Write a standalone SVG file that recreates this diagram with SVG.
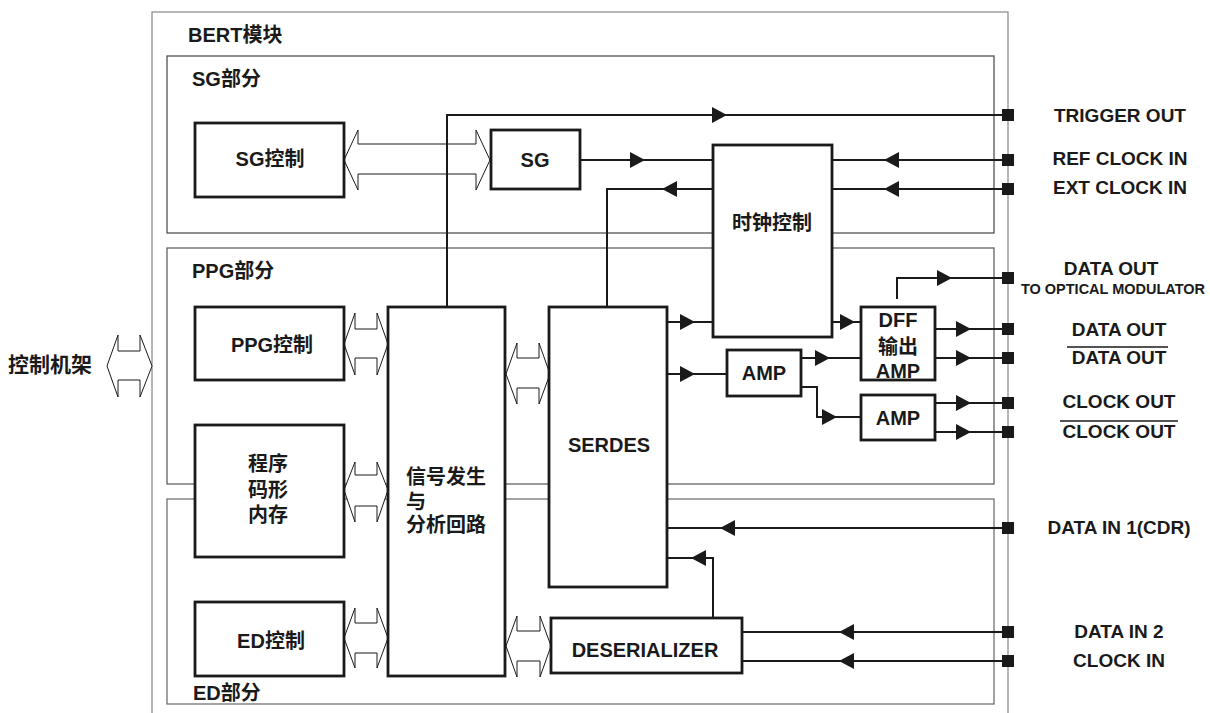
<svg xmlns="http://www.w3.org/2000/svg" xmlns:xlink="http://www.w3.org/1999/xlink" width="1210" height="713" viewBox="0 0 1210 713">
<style>
.t{font-family:"Liberation Sans","Noto Sans CJK SC",sans-serif;font-weight:bold;font-size:20px;fill:#1a1a1a}
.r{font-size:19px}
.c{text-anchor:middle}
.box{fill:#fff;stroke:#1a1a1a;stroke-width:2.8}
.sec{fill:none;stroke:#444;stroke-width:1.2}
.outer{fill:none;stroke:#888;stroke-width:1.2}
.ln{fill:none;stroke:#1a1a1a;stroke-width:2}
.dbl{fill:#fff;stroke:#1a1a1a;stroke-width:1}
.ol{stroke:#1a1a1a;stroke-width:1.5}
</style>
<defs>
<path id="ah" d="M0,0 L-15,-8 L-15,8 Z" fill="#1a1a1a"/>
<rect id="tm" x="-6" y="-6" width="12" height="12" fill="#1a1a1a"/>
</defs>
<rect width="1210" height="713" fill="#fff"/>

<g id="sections">
<rect class="outer" x="152" y="12" width="856" height="720"/>
<rect class="sec" x="167" y="56" width="827" height="177"/>
<rect class="sec" x="167" y="248" width="827" height="236" style="stroke:#555"/>
<rect class="sec" x="167" y="499" width="827" height="205" style="stroke:#666"/>
<text class="t" x="188" y="42">BERT模块</text>
<text class="t" x="192" y="86">SG部分</text>
<text class="t" x="192" y="278">PPG部分</text>
<text class="t" x="193" y="700">ED部分</text>
</g>

<g id="buses">
<polygon class="dbl" points="107,366 118,335 118,351 140,351 140,335 152,366 140,397 140,380 118,380 118,397"/>
<polygon class="dbl" points="344,160 358,130 358,144 476,144 476,130 490,160 476,190 476,174 358,174 358,190"/>
<polygon class="dbl" points="344,344 355,313 355,329 377,329 377,313 388,344 377,375 377,358 355,358 355,375"/>
<polygon class="dbl" points="344,490 355,462 355,475 377,475 377,462 388,490 377,522 377,506 355,506 355,522"/>
<polygon class="dbl" points="344,638 355,608 355,623 377,623 377,608 388,638 377,668 377,653 355,653 355,668"/>
<polygon class="dbl" points="506,374 517,343 517,358 539,358 539,343 550,374 539,404 539,388 517,388 517,404"/>
<polygon class="dbl" points="506,646 517,616 517,631 540,631 540,616 551,646 540,677 540,661 517,661 517,677"/>
</g>

<g id="connectors">
<path class="ln" d="M447,307 V115 H1008"/>
<use xlink:href="#ah" transform="translate(727,115)"/>
<path class="ln" d="M580,160 H713"/>
<use xlink:href="#ah" transform="translate(645,160)"/>
<path class="ln" d="M713,189 H607 V307"/>
<use xlink:href="#ah" transform="translate(662,189) rotate(180)"/>
<path class="ln" d="M1008,160 H832"/>
<use xlink:href="#ah" transform="translate(884,160) rotate(180)"/>
<path class="ln" d="M1008,189 H832"/>
<use xlink:href="#ah" transform="translate(884,189) rotate(180)"/>
<path class="ln" d="M667,322 H713"/>
<use xlink:href="#ah" transform="translate(695,322)"/>
<path class="ln" d="M832,322 H861"/>
<use xlink:href="#ah" transform="translate(855,322)"/>
<path class="ln" d="M667,374 H727"/>
<use xlink:href="#ah" transform="translate(695,374)"/>
<path class="ln" d="M801,358 H861"/>
<use xlink:href="#ah" transform="translate(830,358)"/>
<path class="ln" d="M801,387 H817 V417 H861"/>
<use xlink:href="#ah" transform="translate(837,417)"/>
<path class="ln" d="M897,299 V278 H1008"/>
<use xlink:href="#ah" transform="translate(952,278)"/>
<path class="ln" d="M935,329 H1008"/>
<use xlink:href="#ah" transform="translate(971,329)"/>
<path class="ln" d="M935,358 H1008"/>
<use xlink:href="#ah" transform="translate(971,358)"/>
<path class="ln" d="M935,403 H1008"/>
<use xlink:href="#ah" transform="translate(971,403)"/>
<path class="ln" d="M935,432 H1008"/>
<use xlink:href="#ah" transform="translate(971,432)"/>
<path class="ln" d="M1008,528 H667"/>
<use xlink:href="#ah" transform="translate(720,528) rotate(180)"/>
<path class="ln" d="M713,618 V558 H667"/>
<use xlink:href="#ah" transform="translate(691,558) rotate(180)"/>
<path class="ln" d="M1008,632 H742"/>
<use xlink:href="#ah" transform="translate(839,632) rotate(180)"/>
<path class="ln" d="M1008,661 H742"/>
<use xlink:href="#ah" transform="translate(839,661) rotate(180)"/>
</g>

<g id="terminals">
<use xlink:href="#tm" x="1008" y="115"/>
<use xlink:href="#tm" x="1008" y="160"/>
<use xlink:href="#tm" x="1008" y="189"/>
<use xlink:href="#tm" x="1008" y="278"/>
<use xlink:href="#tm" x="1008" y="329"/>
<use xlink:href="#tm" x="1008" y="358"/>
<use xlink:href="#tm" x="1008" y="403"/>
<use xlink:href="#tm" x="1008" y="432"/>
<use xlink:href="#tm" x="1008" y="528"/>
<use xlink:href="#tm" x="1008" y="632"/>
<use xlink:href="#tm" x="1008" y="661"/>
</g>

<g id="sg-ctrl"><rect class="box" x="195" y="123" width="149" height="74"/><text class="t c" x="270" y="166">SG控制</text></g>
<g id="sg"><rect class="box" x="491" y="130" width="89" height="59"/><text class="t c" x="535" y="167">SG</text></g>
<g id="clock-ctrl"><rect class="box" x="713" y="145" width="119" height="192"/><text class="t c" x="772" y="230">时钟控制</text></g>
<g id="ppg-ctrl"><rect class="box" x="195" y="307" width="149" height="73"/><text class="t c" x="272" y="352">PPG控制</text></g>
<g id="pattern-mem"><rect class="box" x="195" y="425" width="149" height="132"/>
<text class="t c" x="268" y="471">程序</text><text class="t c" x="268" y="497">码形</text><text class="t c" x="268" y="522">内存</text></g>
<g id="ed-ctrl"><rect class="box" x="195" y="602" width="149" height="74"/><text class="t c" x="271" y="648">ED控制</text></g>
<g id="signal"><rect class="box" x="388" y="307" width="117" height="369"/>
<text class="t" x="406" y="484">信号发生</text><text class="t" x="406" y="509">与</text><text class="t" x="406" y="532">分析回路</text></g>
<g id="serdes"><rect class="box" x="549" y="307" width="118" height="280"/><text class="t c" x="609" y="452">SERDES</text></g>
<g id="amp1"><rect class="box" x="727" y="350" width="74" height="46"/><text class="t c" x="764" y="380">AMP</text></g>
<g id="dff"><rect class="box" x="861" y="307" width="74" height="73"/>
<text class="t c" x="898" y="327">DFF</text><text class="t c" x="898" y="354">输出</text><text class="t c" x="898" y="378">AMP</text></g>
<g id="amp2"><rect class="box" x="861" y="395" width="74" height="45"/><text class="t c" x="898" y="425">AMP</text></g>
<g id="deser"><rect class="box" x="551" y="618" width="191" height="55"/><text class="t c" x="645" y="657">DESERIALIZER</text></g>

<g id="labels">
<text class="t" x="8" y="372" style="font-size:21px">控制机架</text>
<text class="t r c" x="1120" y="122">TRIGGER OUT</text>
<text class="t r c" x="1120" y="165">REF CLOCK IN</text>
<text class="t r c" x="1120" y="194">EXT CLOCK IN</text>
<text class="t r c" x="1111" y="275">DATA OUT</text>
<text class="t c" x="1113" y="294" style="font-size:14.5px">TO OPTICAL MODULATOR</text>
<text class="t r c" x="1119" y="336">DATA OUT</text>
<line class="ol" x1="1067" y1="347" x2="1168" y2="347"/>
<text class="t r c" x="1119" y="364">DATA OUT</text>
<text class="t r c" x="1119" y="408">CLOCK OUT</text>
<line class="ol" x1="1060" y1="421" x2="1178" y2="421"/>
<text class="t r c" x="1119" y="438">CLOCK OUT</text>
<text class="t r c" x="1119" y="534">DATA IN 1(CDR)</text>
<text class="t r c" x="1119" y="638">DATA IN 2</text>
<text class="t r c" x="1119" y="667">CLOCK IN</text>
</g>
</svg>
